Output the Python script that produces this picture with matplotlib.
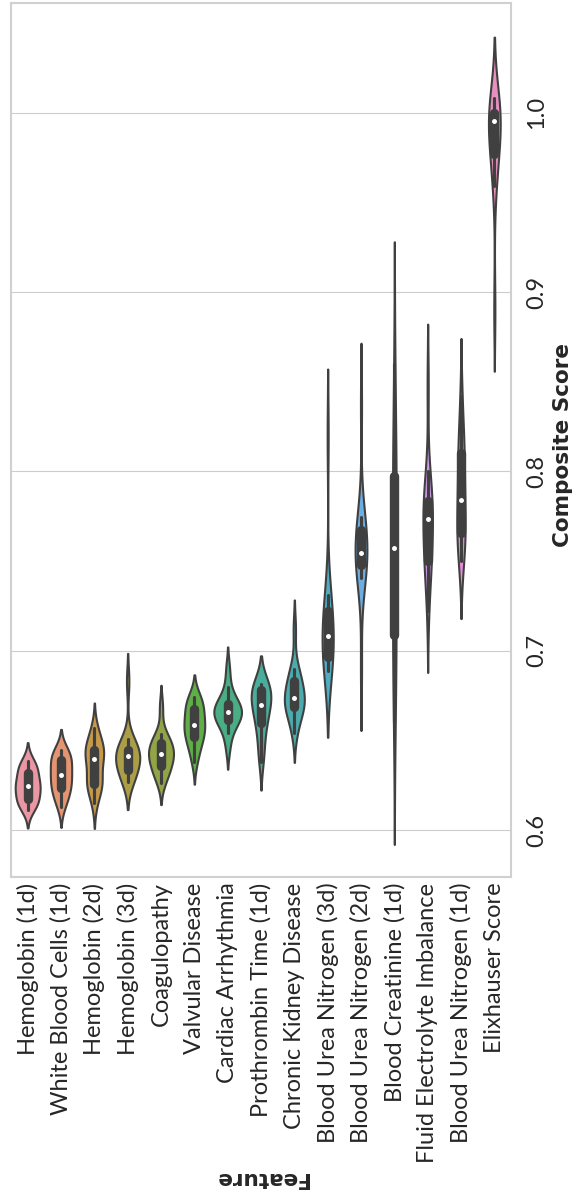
import matplotlib

matplotlib.use("Agg")
import matplotlib.pyplot as plt
import pandas as pd
import seaborn as sns

features = [
    "Hemoglobin (1d)",
    "White Blood Cells (1d)",
    "Hemoglobin (2d)",
    "Hemoglobin (3d)",
    "Coagulopathy",
    "Valvular Disease",
    "Cardiac Arrhythmia",
    "Prothrombin Time (1d)",
    "Chronic Kidney Disease",
    "Blood Urea Nitrogen (3d)",
    "Blood Urea Nitrogen (2d)",
    "Blood Creatinine (1d)",
    "Fluid Electrolyte Imbalance",
    "Blood Urea Nitrogen (1d)",
    "Elixhauser Score",
]

# composite scores per feature, estimated from the figure
hemoglobin_1d = [0.6112, 0.6140, 0.6155, 0.6165, 0.6177, 0.6225, 0.6235, 0.6245,
                 0.6255, 0.6265, 0.6315, 0.6325, 0.6345, 0.6365, 0.6387]
wbc_1d = [0.6130, 0.6170, 0.6200, 0.6225, 0.6240, 0.6265, 0.6290, 0.6307,
          0.6325, 0.6350, 0.6380, 0.6400, 0.6415, 0.6430, 0.6446]
hemoglobin_2d = [0.6150, 0.6230, 0.6245, 0.6250, 0.6265, 0.6300, 0.6350, 0.6396,
                 0.6420, 0.6430, 0.6440, 0.6452, 0.6480, 0.6520, 0.6567]
hemoglobin_3d = [0.6269, 0.6290, 0.6310, 0.6330, 0.6340, 0.6385, 0.6402, 0.6413,
                 0.6422, 0.6432, 0.6440, 0.6452, 0.6475, 0.6508, 0.6830]
coagulopathy = [0.6264, 0.6300, 0.6330, 0.6352, 0.6362, 0.6400, 0.6412, 0.6424,
                0.6436, 0.6448, 0.6478, 0.6488, 0.6510, 0.6535, 0.6685]
valvular = [0.6381, 0.6440, 0.6480, 0.6505, 0.6530, 0.6550, 0.6570, 0.6586,
            0.6605, 0.6630, 0.6660, 0.6690, 0.6710, 0.6725, 0.6740]
arrhythmia = [0.6460, 0.6540, 0.6590, 0.6612, 0.6615, 0.6632, 0.6648, 0.6660,
              0.6672, 0.6688, 0.6700, 0.6706, 0.6735, 0.6800, 0.6900]
prothrombin_1d = [0.6380, 0.6450, 0.6520, 0.6580, 0.6610, 0.6650, 0.6680, 0.6697,
                  0.6715, 0.6740, 0.6770, 0.6790, 0.6800, 0.6810, 0.6814]
kidney = [0.6540, 0.6600, 0.6650, 0.6680, 0.6690, 0.6705, 0.6720, 0.6735,
          0.6750, 0.6775, 0.6820, 0.6840, 0.6870, 0.6900, 0.7120]
bun_3d = [0.6888, 0.6920, 0.6940, 0.6960, 0.6975, 0.7010, 0.7050, 0.7082,
          0.7110, 0.7150, 0.7200, 0.7245, 0.7270, 0.7308, 0.8200]
bun_2d = [0.6900, 0.7405, 0.7440, 0.7470, 0.7490, 0.7510, 0.7530, 0.7545,
          0.7570, 0.7600, 0.7650, 0.7700, 0.7720, 0.7745, 0.8370]
creatinine_1d = [0.6600, 0.6800, 0.6950, 0.7050, 0.7120, 0.7250, 0.7400, 0.7572,
                 0.7700, 0.7850, 0.7950, 0.8000, 0.8075, 0.8300, 0.8600]
fluid_imbalance = [0.7220, 0.7450, 0.7480, 0.7490, 0.7505, 0.7600, 0.7700, 0.7736,
                   0.7780, 0.7800, 0.7830, 0.7840, 0.7850, 0.8000, 0.8480]
bun_1d = [0.7500, 0.7560, 0.7600, 0.7640, 0.7670, 0.7720, 0.7790, 0.7842,
          0.7900, 0.7980, 0.8080, 0.8120, 0.8140, 0.8250, 0.8420]
elixhauser = [0.8900, 0.9590, 0.9700, 0.9750, 0.9785, 0.9830, 0.9900, 0.9952,
              0.9970, 0.9980, 0.9995, 1.0000, 1.0015, 1.0040, 1.0080]

scores = [
    hemoglobin_1d, wbc_1d, hemoglobin_2d, hemoglobin_3d, coagulopathy,
    valvular, arrhythmia, prothrombin_1d, kidney, bun_3d,
    bun_2d, creatinine_1d, fluid_imbalance, bun_1d, elixhauser,
]
score_ticks = [0.6, 0.7, 0.8, 0.9, 1.0]

sns.set_style("whitegrid")
plt.rcParams["font.family"] = ["Lato", "DejaVu Sans"]

rows = [(name, v) for name, vals in zip(features, scores) for v in vals]
df = pd.DataFrame(rows, columns=["Feature", "Composite Score"])

fig = plt.figure(figsize=(5.74, 11.98), dpi=100)
ax = fig.add_axes([11 / 574, 1 - 877 / 1198, 500 / 574, 874 / 1198])

sns.violinplot(
    data=df, x="Feature", y="Composite Score", hue="Feature",
    order=features, hue_order=features, legend=False,
    palette=sns.husl_palette(len(features), l=0.7),
    density_norm="area", common_norm=True, width=0.83,
    inner="box", linewidth=1.5, linecolor="#404040",
    inner_kws=dict(marker="o", markersize=2.2),
    ax=ax,
)

ax.set_xlim(-0.5, len(features) - 0.5)
ax.set_ylim(0.5738, 1.0612)
ax.set_yticks(score_ticks)
ax.set_yticklabels([f"{t:.1f}" for t in score_ticks])
ax.yaxis.tick_right()
ax.yaxis.set_label_position("right")
ax.tick_params(axis="y", labelsize=17, pad=11, length=0)
ax.tick_params(axis="x", labelsize=17, pad=4, length=0)
for lab in ax.get_yticklabels():
    lab.set_rotation(90)
    lab.set_va("center")
for lab in ax.get_xticklabels():
    lab.set_rotation(90)
    lab.set_ha("center")
    lab.set_va("top")

ax.set_ylabel("Composite Score", fontsize=15.5, fontweight="bold", rotation=90,
              va="center", ha="center", family="DejaVu Sans")
ax.yaxis.set_label_coords(1.104, 0.494)
ax.set_xlabel("Feature", fontsize=15.5, fontweight="bold", rotation=180,
              va="center", ha="center", family="DejaVu Sans")
ax.xaxis.set_label_coords(0.5, -0.344)
ax.xaxis.grid(False)
for spine in ax.spines.values():
    spine.set_color("#d0d0d0")
    spine.set_linewidth(1.5)

fig.savefig("out.png", dpi=100)
